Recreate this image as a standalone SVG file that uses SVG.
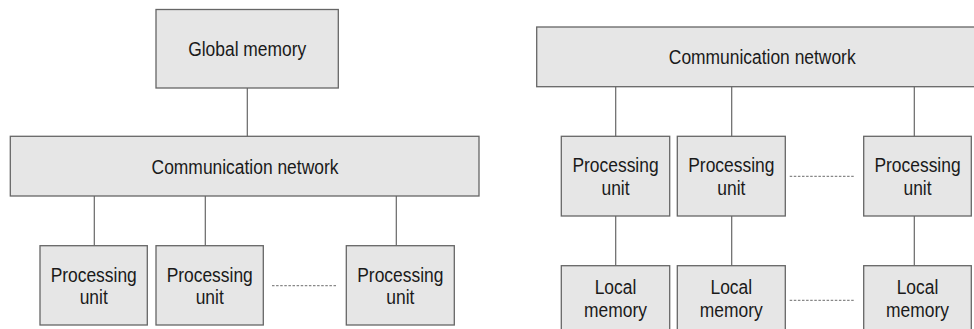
<svg xmlns="http://www.w3.org/2000/svg" width="974" height="329" viewBox="0 0 974 329">
  <style>
    .box { fill: #e6e6e6; stroke: #666666; stroke-width: 1.3; }
    .link { stroke: #666666; stroke-width: 1.2; fill: none; }
    .dots { stroke: #888888; stroke-width: 1.2; stroke-dasharray: 2.5 1.6; fill: none; }
    /* condensed sans: regular face narrowed horizontally via each label's transform */
    text { font-family: "Liberation Sans", Arial, sans-serif; font-size: 21px; fill: #1a1a1a; text-anchor: middle; }
  </style>
  <rect width="974" height="329" fill="#ffffff"/>

  <!-- connectors -->
  <g id="connectors">
    <!-- shared memory system -->
    <line class="link" x1="247.3" y1="88" x2="247.3" y2="136.3"/>
    <line class="link" x1="94.3" y1="196" x2="94.3" y2="245.7"/>
    <line class="link" x1="205.3" y1="196" x2="205.3" y2="245.7"/>
    <line class="link" x1="396.3" y1="196" x2="396.3" y2="245.7"/>
    <line class="dots" x1="272" y1="285.7" x2="337.3" y2="285.7"/>
    <!-- distributed memory system -->
    <line class="link" x1="615.7" y1="86.7" x2="615.7" y2="136.3"/>
    <line class="link" x1="731.7" y1="86.7" x2="731.7" y2="136.3"/>
    <line class="link" x1="914.3" y1="86.7" x2="914.3" y2="136.3"/>
    <line class="link" x1="615.7" y1="216" x2="615.7" y2="265.7"/>
    <line class="link" x1="731.7" y1="216" x2="731.7" y2="265.7"/>
    <line class="link" x1="914.3" y1="216" x2="914.3" y2="265.7"/>
    <line class="dots" x1="789.7" y1="176.3" x2="855.3" y2="176.3"/>
    <line class="dots" x1="789.7" y1="300.3" x2="855.3" y2="300.3"/>
  </g>

  <!-- shared memory system -->
  <g id="global-memory">
    <rect class="box" x="156" y="9.5" width="182.3" height="78.5"/>
    <text transform="translate(247.2 56.2) scale(0.83 1)">Global memory</text>
  </g>
  <g id="network-left">
    <rect class="box" x="10.3" y="136.3" width="468.7" height="59.7"/>
    <text transform="translate(245 174) scale(0.83 1)">Communication network</text>
  </g>
  <g id="pu-left-1">
    <rect class="box" x="40" y="245.7" width="107.3" height="79.3"/>
    <text transform="translate(93.7 282) scale(0.83 1)">Processing</text>
    <text transform="translate(93.7 304.3) scale(0.83 1)">unit</text>
  </g>
  <g id="pu-left-2">
    <rect class="box" x="156" y="245.7" width="107.3" height="79.3"/>
    <text transform="translate(209.7 282) scale(0.83 1)">Processing</text>
    <text transform="translate(209.7 304.3) scale(0.83 1)">unit</text>
  </g>
  <g id="pu-left-3">
    <rect class="box" x="346.3" y="245.7" width="108" height="79.3"/>
    <text transform="translate(400.3 282) scale(0.83 1)">Processing</text>
    <text transform="translate(400.3 304.3) scale(0.83 1)">unit</text>
  </g>

  <!-- distributed memory system -->
  <g id="network-right">
    <rect class="box" x="536.7" y="27" width="452" height="59.7"/>
    <text transform="translate(762.2 64.4) scale(0.83 1)">Communication network</text>
  </g>
  <g id="pu-right-1">
    <rect class="box" x="561.3" y="136.3" width="108.4" height="79.7"/>
    <text transform="translate(615.5 172) scale(0.83 1)">Processing</text>
    <text transform="translate(615.5 195) scale(0.83 1)">unit</text>
  </g>
  <g id="pu-right-2">
    <rect class="box" x="677.3" y="136.3" width="108" height="79.7"/>
    <text transform="translate(731.3 172) scale(0.83 1)">Processing</text>
    <text transform="translate(731.3 195) scale(0.83 1)">unit</text>
  </g>
  <g id="pu-right-3">
    <rect class="box" x="863.7" y="136.3" width="107.6" height="79.7"/>
    <text transform="translate(917.5 172) scale(0.83 1)">Processing</text>
    <text transform="translate(917.5 195) scale(0.83 1)">unit</text>
  </g>
  <g id="lm-right-1">
    <rect class="box" x="561.3" y="265.7" width="108.4" height="80"/>
    <text transform="translate(615.5 293.5) scale(0.83 1)">Local</text>
    <text transform="translate(615.5 316.7) scale(0.83 1)">memory</text>
  </g>
  <g id="lm-right-2">
    <rect class="box" x="677.3" y="265.7" width="108" height="80"/>
    <text transform="translate(731.3 293.5) scale(0.83 1)">Local</text>
    <text transform="translate(731.3 316.7) scale(0.83 1)">memory</text>
  </g>
  <g id="lm-right-3">
    <rect class="box" x="863.7" y="265.7" width="107.6" height="80"/>
    <text transform="translate(917.5 293.5) scale(0.83 1)">Local</text>
    <text transform="translate(917.5 316.7) scale(0.83 1)">memory</text>
  </g>
</svg>
